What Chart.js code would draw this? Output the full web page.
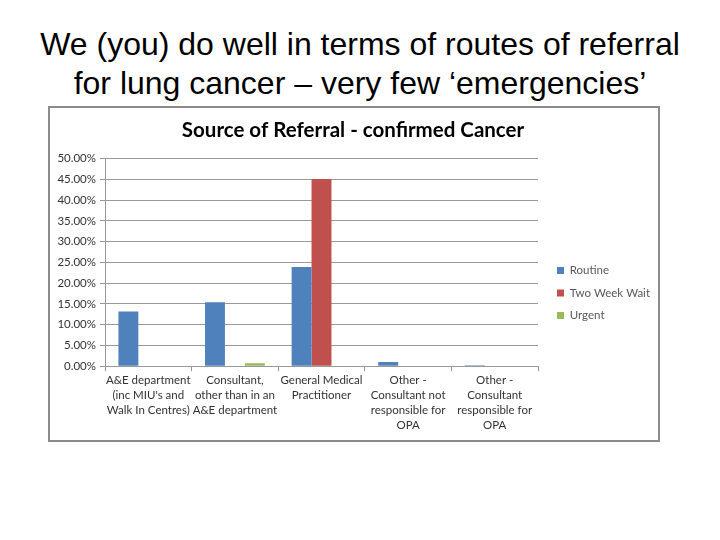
<!DOCTYPE html>
<html>
<head>
<meta charset="utf-8">
<script src="https://cdn.jsdelivr.net/npm/chart.js@4/dist/chart.umd.min.js"></script>
<style>
    html, body { margin: 0; padding: 0; background: #fff; }
    body { width: 720px; height: 540px; position: relative; overflow: hidden; }
    #slideTitle {
        position: absolute; left: 0; top: 25px; width: 720px;
        text-align: center; font-family: "Liberation Sans", Arial, sans-serif;
        font-size: 32px; line-height: 39px; color: #000;
    }
    #chartBox {
        position: absolute; left: 48px; top: 106px; width: 608px; height: 332px;
        border: 2px solid #8c8c8c; background: #fff;
    }
</style>
</head>
<body>
<div id="slideTitle">We (you) do well in terms of routes of referral<br>for lung cancer – very few ‘emergencies’</div>
<div id="chartBox"><canvas id="referralChart" width="608" height="332"></canvas></div>
<script>
var categories = [
    ['A&E department', "(inc MIU's and", 'Walk In Centres)'],
    ['Consultant,', 'other than in an', 'A&E department'],
    ['General Medical', 'Practitioner'],
    ['Other -', 'Consultant not', 'responsible for', 'OPA'],
    ['Other -', 'Consultant', 'responsible for', 'OPA']
];
var routine = [13.2, 15.4, 23.9, 1.0, 0.2];
var twoWeekWait = [0, 0, 45.1, 0, 0];
var urgent = [0, 0.7, 0, 0, 0];
var yTicks = [0, 5, 10, 15, 20, 25, 30, 35, 40, 45, 50];

var fontFamily = 'Lato, "Open Sans", sans-serif';

// nudge the legend items a little further from the plot, like the original
var legendNudge = {
    id: 'legendNudge',
    afterLayout: function (chart) {
        chart.legend.left += 8;
        chart.legend.right += 8;
    }
};

function buildReferralChart() {
    new Chart(document.getElementById('referralChart'), {
        type: 'bar',
        data: {
            labels: categories,
            datasets: [
                { label: 'Routine', data: routine, backgroundColor: '#4f81bd' },
                { label: 'Two Week Wait', data: twoWeekWait, backgroundColor: '#c0504d' },
                { label: 'Urgent', data: urgent, backgroundColor: '#9bbb59' }
            ]
        },
        plugins: [legendNudge],
        options: {
            responsive: false,
            animation: false,
            layout: { padding: { left: 4, right: 6, bottom: 5 } },
            datasets: { bar: { categoryPercentage: 0.69, barPercentage: 1 } },
            plugins: {
                title: {
                    display: true,
                    text: 'Source of Referral - confirmed Cancer',
                    color: '#000',
                    font: { family: fontFamily, size: 20.5, weight: 'bold' },
                    padding: { top: 10, bottom: 16 }
                },
                legend: {
                    position: 'right',
                    title: { display: true, text: '', font: { size: 10 }, padding: { top: 31, bottom: 0 } },
                    labels: {
                        boxWidth: 7, boxHeight: 7, padding: 11,
                        color: '#595959', font: { family: fontFamily, size: 11.5 }
                    }
                },
                tooltip: { enabled: false }
            },
            scales: {
                x: {
                    grid: { drawOnChartArea: false, tickLength: 5, color: '#999' },
                    border: { color: '#999' },
                    ticks: {
                        color: '#333', font: { family: fontFamily, size: 11.5, lineHeight: 1.3 },
                        maxRotation: 0, autoSkip: false, padding: 2
                    }
                },
                y: {
                    min: 0, max: 50,
                    afterBuildTicks: function (scale) {
                        scale.ticks = yTicks.map(function (v) { return { value: v }; });
                    },
                    afterFit: function (scale) { scale.width = 51; },
                    grid: { color: '#999', tickLength: 5 },
                    border: { color: '#999' },
                    ticks: {
                        color: '#333', font: { family: fontFamily, size: 11.5 }, padding: 4,
                        callback: function (v) { return v.toFixed(2) + '%'; }
                    }
                }
            }
        }
    });
}

buildReferralChart();
</script>
</body>
</html>
